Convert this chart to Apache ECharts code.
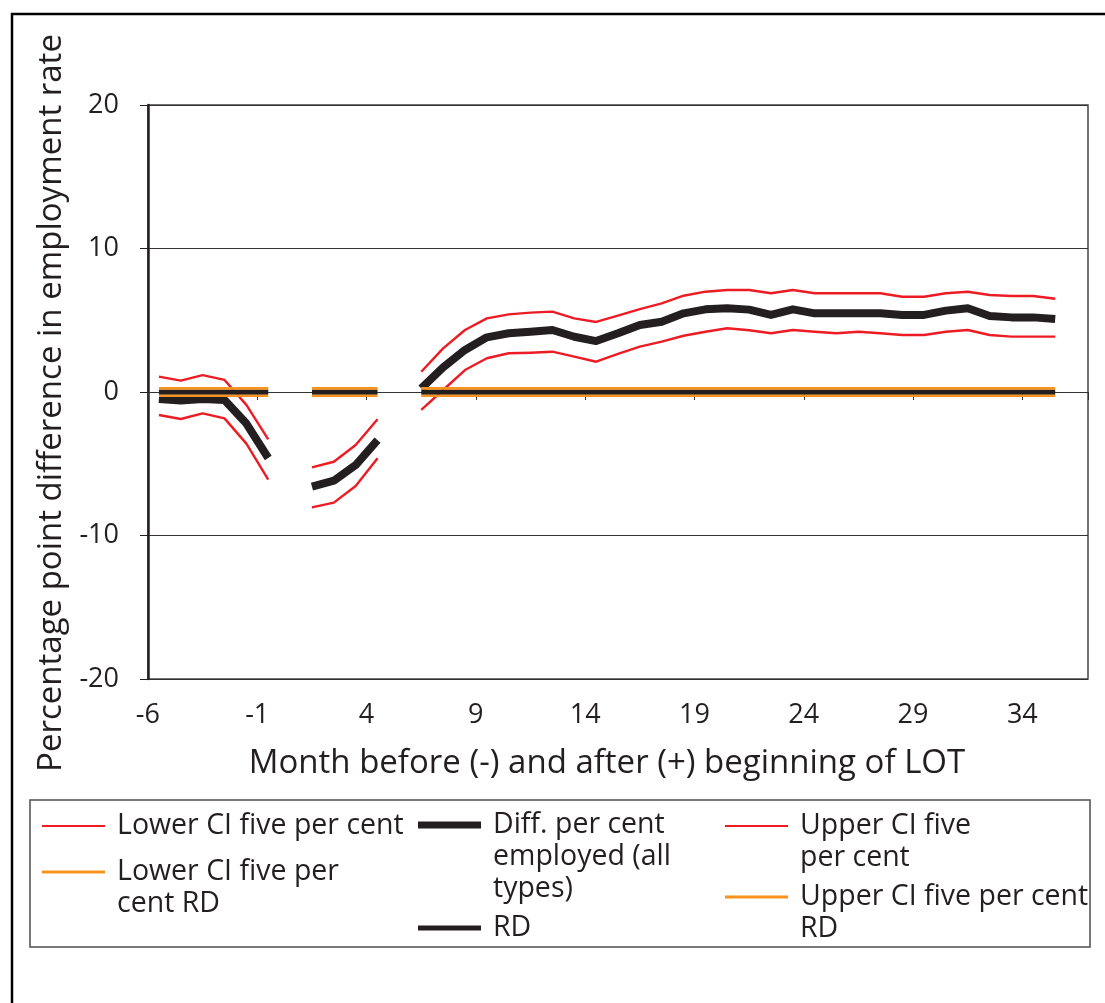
<!DOCTYPE html>
<html>
<head>
<meta charset="utf-8">
<script src="https://cdn.jsdelivr.net/npm/echarts@6/dist/echarts.min.js"></script>
<style>
  html, body { margin: 0; padding: 0; background: #ffffff; }
  #chart { width: 1105px; height: 1003px; }
</style>
</head>
<body>
<div id="chart"></div>
<script>
// Months relative to the beginning of LOT (one category per month)
const months = ['-6','-5','-4','-3','-2','-1','0','1','2','3','4','5','6','7','8','9','10',
  '11','12','13','14','15','16','17','18','19','20','21','22','23','24','25','26','27',
  '28','29','30','31','32','33','34','35','36'];

// Percentage point difference in employment rate (null = not estimated)
const lowerCI = [-1.60,-1.88,-1.49,-1.84,-3.60,-6.10, null,-8.04,-7.71,-6.55,-4.62, null,
  -1.25,0.14,1.53,2.35,2.70,2.74,2.81,2.46,2.11,2.65,3.16,3.51,3.92,4.20,4.44,4.30,4.09,
  4.32,4.20,4.09,4.20,4.09,3.97,3.97,4.20,4.32,3.97,3.86,3.86,3.86, null];

const diffAll = [-0.49,-0.60,-0.49,-0.56,-2.20,-4.60, null,-6.60,-6.18,-5.09,-3.35, null,
  0.26,1.72,2.93,3.81,4.09,4.20,4.32,3.85,3.55,4.09,4.67,4.90,5.48,5.76,5.83,5.74,5.37,
  5.76,5.48,5.48,5.48,5.48,5.37,5.37,5.67,5.83,5.30,5.20,5.20,5.09, null];

const upperCI = [1.07,0.79,1.18,0.84,-0.90,-3.30, null,-5.25,-4.86,-3.69,-1.90, null,
  1.41,3.04,4.32,5.13,5.41,5.53,5.60,5.13,4.88,5.32,5.78,6.18,6.71,6.99,7.11,7.11,6.88,
  7.11,6.88,6.88,6.88,6.88,6.64,6.64,6.88,6.99,6.76,6.69,6.69,6.50, null];

const lowerCIRD = [-0.25,-0.25,-0.25,-0.25,-0.25,-0.25, null,-0.25,-0.25,-0.25,-0.25, null,
  -0.25,-0.25,-0.25,-0.25,-0.25,-0.25,-0.25,-0.25,-0.25,-0.25,-0.25,-0.25,-0.25,-0.25,-0.25,
  -0.25,-0.25,-0.25,-0.25,-0.25,-0.25,-0.25,-0.25,-0.25,-0.25,-0.25,-0.25,-0.25,-0.25,-0.25, null];

const rd = [0,0,0,0,0,0, null,0,0,0,0, null,
  0,0,0,0,0,0,0,0,0,0,0,0,0,0,0,0,0,0,0,0,0,0,0,0,0,0,0,0,0,0, null];

const upperCIRD = [0.25,0.25,0.25,0.25,0.25,0.25, null,0.25,0.25,0.25,0.25, null,
  0.25,0.25,0.25,0.25,0.25,0.25,0.25,0.25,0.25,0.25,0.25,0.25,0.25,0.25,0.25,
  0.25,0.25,0.25,0.25,0.25,0.25,0.25,0.25,0.25,0.25,0.25,0.25,0.25,0.25,0.25, null];

const yTicks = { min: -20, max: 20, step: 10 };

const FONT = 'Open Sans';
const INK = '#231f20';
const RED = '#ed1c24';
const ORANGE = '#f7931e';
const TICK_FS = 27;
const TITLE_FS = 33;
const LEGEND_FS = 28.5;
const LH = 32;

const names = {
  lower: 'Lower CI five per cent',
  diff: 'Diff. per cent\nemployed (all\ntypes)',
  upper: 'Upper CI five\nper cent',
  lowerRD: 'Lower CI five per\ncent RD',
  rd: 'RD',
  upperRD: 'Upper CI five per cent\nRD'
};

function lineSeries(name, data, color, width) {
  return {
    name, type: 'line', data,
    xAxisIndex: 0, yAxisIndex: 0,
    symbol: 'none', showSymbol: false,
    connectNulls: false,
    animation: false,
    itemStyle: { color },
    lineStyle: { color, width, cap: 'butt', join: 'round' },
    emphasis: { disabled: true }
  };
}

// One legend block per entry; leading blank lines keep the icon beside the first text line
function legendItem(name, left, centerY, iconH) {
  const n = name.split('\n').length;
  return {
    data: [name],
    left, top: centerY - (2 * n - 1) * LH / 2,
    orient: 'horizontal',
    padding: 0,
    itemWidth: 63,
    itemHeight: iconH,
    icon: 'rect',
    selectedMode: false,
    formatter: (label) => '\n'.repeat(n - 1) + label,
    textStyle: {
      fontFamily: FONT, fontSize: LEGEND_FS, color: INK, lineHeight: LH,
      padding: [0, 0, 0, 7]
    }
  };
}

const chart = echarts.init(document.getElementById('chart'), null, { renderer: 'canvas' });

chart.setOption({
  backgroundColor: '#ffffff',
  animation: false,
  textStyle: { fontFamily: FONT },
  grid: {
    left: 148, top: 105, width: 940, height: 574,
    show: true, borderColor: '#444444', borderWidth: 1.5, containLabel: false
  },
  xAxis: [
    {
      type: 'category', data: months, boundaryGap: true, position: 'bottom',
      axisLine: { show: true, onZero: true, lineStyle: { color: '#333333', width: 1 } },
      axisTick: { show: true, interval: 4, length: 8, lineStyle: { color: '#333333', width: 1 } },
      axisLabel: { show: false },
      splitLine: { show: false }
    },
    {
      type: 'category', data: months, boundaryGap: true, position: 'bottom',
      axisLine: { show: false, onZero: false },
      axisTick: { show: false },
      splitLine: { show: false },
      axisLabel: {
        interval: 4, fontFamily: FONT, fontSize: TICK_FS, color: INK, margin: 23,
        padding: [0, 22, 0, 0]
      },
      name: 'Month before (-) and after (+) beginning of LOT',
      nameLocation: 'middle', nameGap: 68,
      nameTextStyle: { fontFamily: FONT, fontSize: TITLE_FS, color: INK, padding: [0, 22, 0, 0] }
    }
  ],
  yAxis: {
    type: 'value', min: yTicks.min, max: yTicks.max, interval: yTicks.step,
    axisLine: { show: true, onZero: false, lineStyle: { color: INK, width: 2.5 } },
    axisTick: { show: true, length: 8, lineStyle: { color: INK, width: 1 } },
    axisLabel: { fontFamily: FONT, fontSize: TICK_FS, color: INK, margin: 29 },
    splitLine: { show: true, lineStyle: { color: '#333333', width: 1 } },
    name: 'Percentage point difference in employment rate',
    nameLocation: 'middle', nameGap: 80,
    nameTextStyle: { fontFamily: FONT, fontSize: TITLE_FS, color: INK, padding: [0, 22, 0, 0] }
  },
  legend: [
    legendItem(names.lower, 42, 826, 2),
    legendItem(names.diff, 418, 825, 7),
    legendItem(names.upper, 725, 826, 2),
    legendItem(names.lowerRD, 42, 872, 3),
    legendItem(names.rd, 418, 928, 5),
    legendItem(names.upperRD, 725, 897, 3)
  ],
  graphic: [
    {
      type: 'rect', silent: true, z: -1,
      shape: { x: 12, y: 14, width: 1200, height: 1100 },
      style: { fill: 'none', stroke: '#000000', lineWidth: 2.5 }
    },
    {
      type: 'rect', silent: true,
      shape: { x: 30, y: 800, width: 1060, height: 147 },
      style: { fill: 'none', stroke: '#4d4d4d', lineWidth: 1.5 }
    }
  ],
  series: [
    lineSeries(names.lower, lowerCI, RED, 2.4),
    lineSeries(names.diff, diffAll, INK, 8),
    lineSeries(names.upper, upperCI, RED, 2.4),
    lineSeries(names.lowerRD, lowerCIRD, ORANGE, 2.6),
    lineSeries(names.rd, rd, INK, 5),
    lineSeries(names.upperRD, upperCIRD, ORANGE, 2.6)
  ]
});
</script>
</body>
</html>
